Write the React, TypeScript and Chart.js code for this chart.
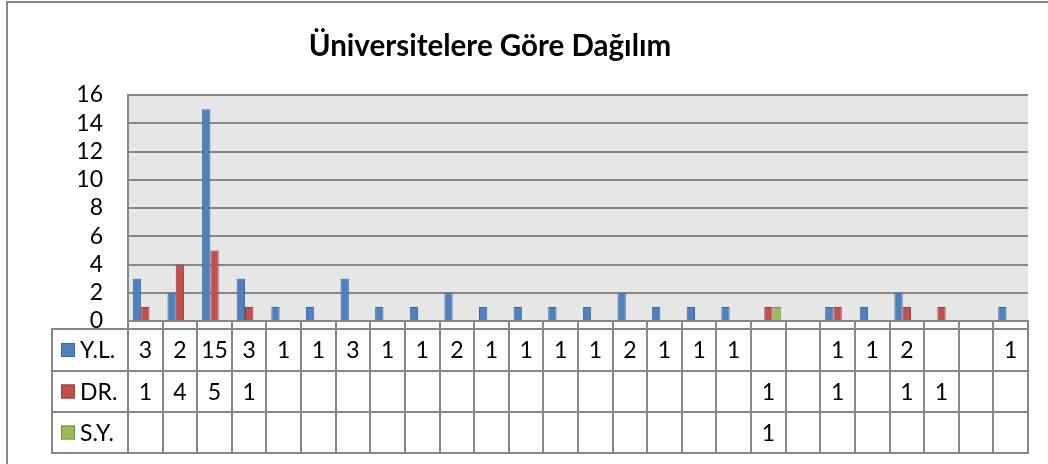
import { useEffect, useRef } from "react";
import { Chart, registerables } from "chart.js";

Chart.register(...registerables);

const chartTitle = "Üniversitelere Göre Dağılım";
const categories = ["", "", "", "", "", "", "", "", "", "", "", "", "", "", "", "", "", "", "", "", "", "", "", "", "", ""];
const seriesNames = ["Y.L.", "DR.", "S.Y."];
const ylValues = [3, 2, 15, 3, 1, 1, 3, 1, 1, 2, 1, 1, 1, 1, 2, 1, 1, 1, null, null, 1, 1, 2, null, null, 1];
const drValues = [1, 4, 5, 1, null, null, null, null, null, null, null, null, null, null, null, null, null, null, 1, null, 1, null, 1, 1, null, null];
const syValues = [null, null, null, null, null, null, null, null, null, null, null, null, null, null, null, null, null, null, 1, null, null, null, null, null, null, null];
const yMin = 0;
const yMax = 16;
const yStep = 2;

const fillColors = ["#4F81BD", "#C0504D", "#9BBB59"];
const edgeColors = ["#3A679E", "#9A3E3B", "#76933C"];
const FONT = "Lato, 'Open Sans', sans-serif";
const GRID = "#878787";

const seriesValues = [ylValues, drValues, syValues];

const tablePlugin = {
  id: "excelTable",
  beforeDraw(chart: any) {
    const { ctx, chartArea: a } = chart;
    ctx.save();
    ctx.fillStyle = "#ffffff";
    ctx.fillRect(0, 0, chart.width, chart.height);
    ctx.fillStyle = "#E6E6E6";
    ctx.fillRect(a.left, a.top, a.right - a.left, a.bottom - a.top);
    ctx.restore();
  },
  afterDraw(chart: any) {
    const { ctx, chartArea: a, scales } = chart;
    const xs = scales.x;
    ctx.save();
    // outer frame
    ctx.strokeStyle = GRID;
    ctx.lineWidth = 2;
    ctx.beginPath();
    ctx.moveTo(7, chart.height);
    ctx.lineTo(7, 2);
    ctx.lineTo(chart.width, 2);
    ctx.stroke();

    // title
    ctx.fillStyle = "#000";
    ctx.font = `bold 29.5px ${FONT}`;
    ctx.textAlign = "center";
    ctx.textBaseline = "alphabetic";
    ctx.fillText(chartTitle, 490, 56);

    // data table
    const tableTop = a.bottom + 8;
    const rowH = [42, 41, 41];
    const labelLeft = 52;
    ctx.strokeStyle = GRID;
    ctx.lineWidth = 2;
    let y = tableTop;
    const ys = [y];
    rowH.forEach((h) => {
      y += h;
      ys.push(y);
    });
    ctx.beginPath();
    ys.forEach((yy) => {
      ctx.moveTo(labelLeft - 1, yy);
      ctx.lineTo(a.right + 1, yy);
    });
    ctx.moveTo(labelLeft, tableTop);
    ctx.lineTo(labelLeft, ys[ys.length - 1]);
    ctx.stroke();

    ctx.font = `23px ${FONT}`;
    ctx.textBaseline = "middle";
    seriesNames.forEach((name, s) => {
      const cy = (ys[s] + ys[s + 1]) / 2;
      // legend key
      ctx.fillStyle = fillColors[s];
      ctx.fillRect(61, cy - 7, 14, 14);
      ctx.strokeStyle = edgeColors[s];
      ctx.lineWidth = 1;
      ctx.strokeRect(61.5, cy - 6.5, 13, 13);
      ctx.fillStyle = "#000";
      ctx.textAlign = "left";
      ctx.fillText(name, 80, cy + 1);
      ctx.textAlign = "center";
      seriesValues[s].forEach((v, i) => {
        if (v === null || v === undefined) return;
        ctx.fillText(String(v), xs.getPixelForValue(i), cy + 1);
      });
    });
    ctx.restore();
  },
};

export default function App() {
  const ref = useRef<HTMLCanvasElement | null>(null);
  useEffect(() => {
    if (!ref.current) return;
    const chart = new Chart(ref.current, {
      type: "bar",
      data: {
        labels: categories,
        datasets: seriesNames.map((name, s) => ({
          label: name,
          data: seriesValues[s],
          backgroundColor: fillColors[s],
          borderColor: edgeColors[s],
          borderWidth: 1,
          barPercentage: 1,
          categoryPercentage: 0.72,
        })),
      },
      options: {
        animation: false,
        responsive: false,
        devicePixelRatio: 1,
        layout: { padding: { top: 95, right: 20, bottom: 0, left: 0 } },
        plugins: {
          legend: { display: false },
          title: { display: false },
          tooltip: { enabled: false },
        },
        scales: {
          x: {
            type: "category",
            offset: true,
            ticks: { display: false },
            grid: {
              offset: true,
              drawOnChartArea: false,
              drawTicks: true,
              tickLength: 132,
              color: GRID,
              lineWidth: 2,
            },
            border: { display: true, color: GRID, width: 2 },
            afterFit(scale: any) {
              scale.height = 143;
            },
          },
          y: {
            min: yMin,
            max: yMax,
            ticks: {
              stepSize: yStep,
              autoSkip: false,
              padding: 25,
              color: "#000",
              font: { family: FONT, size: 23 },
            },
            grid: { color: GRID, lineWidth: 2, drawTicks: false },
            border: { display: true, color: GRID, width: 2 },
            afterFit(scale: any) {
              scale.width = 128;
            },
          },
        },
      },
      plugins: [tablePlugin],
    } as any);
    return () => chart.destroy();
  }, []);
  return (
    <div style={{ position: "fixed", left: 0, top: 0, width: 1048, height: 464, background: "#fff" }}>
      <canvas ref={ref} width={1048} height={464} style={{ display: "block" }} />
    </div>
  );
}
